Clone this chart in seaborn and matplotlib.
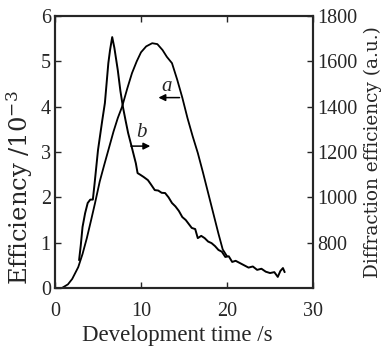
import matplotlib
matplotlib.use("Agg")
import matplotlib.pyplot as plt
import seaborn as sns

# ----------------------------------------------------
# Data
# ----------------------------------------------------

# curve a : efficiency (left axis, x10^-3)
a_time = [0.8, 1.5, 2.0, 2.7, 3.2, 3.7, 4.2, 4.65, 5.2, 5.7, 6.2, 6.8,
          7.3, 7.8, 8.4, 8.95, 9.5, 10.0, 10.6, 11.3, 11.9, 12.5, 13.0,
          13.6, 14.2, 14.8, 15.4, 16.0, 16.6, 17.2, 17.8, 18.4, 19.0,
          19.5, 20.0]
a_eff = [0.0, 0.08, 0.2, 0.46, 0.75, 1.1, 1.5, 1.87, 2.35, 2.7, 3.04, 3.45,
         3.75, 4.0, 4.4, 4.74, 5.0, 5.2, 5.33, 5.4, 5.38, 5.25, 5.1,
         4.96, 4.6, 4.2, 3.75, 3.35, 2.98, 2.55, 2.1, 1.65, 1.2,
         0.85, 0.7]

# curve b : diffraction efficiency (right axis, a.u.)
b_time = [2.8, 3.0, 3.2, 3.5, 3.8, 4.1, 4.4, 4.6, 5.0, 5.5, 5.8, 6.2,
          6.4, 6.65, 6.9, 7.3, 7.6, 7.9, 8.2, 8.5, 8.8, 9.1, 9.4, 9.6,
          9.9, 10.3, 10.8, 11.1, 11.6, 12.0, 12.4, 12.8, 13.2, 13.6,
          14.0, 14.4, 14.8, 15.2, 15.6, 15.9, 16.3, 16.6, 17.0, 17.4,
          17.8, 18.2, 18.6, 19.0, 19.4, 19.8, 20.2, 20.6, 21.0, 21.5,
          22.0, 22.5, 23.0, 23.5, 24.0, 24.5, 25.0, 25.5, 25.9, 26.2,
          26.5, 26.7]
b_diff = [723, 790, 869, 930, 975, 990, 990, 1060, 1209, 1341, 1416, 1592,
          1650, 1707, 1660, 1561, 1470, 1398, 1340, 1284, 1240, 1195, 1150, 1107,
          1100, 1090, 1076, 1060, 1032, 1030, 1020, 1019, 1000, 975,
          960, 940, 913, 900, 880, 865, 860, 820, 830, 820,
          805, 798, 785, 768, 760, 737, 740, 715, 720, 710,
          700, 690, 695, 680, 685, 672, 666, 670, 649, 675,
          688, 670]

x_ticks = [0, 10, 20, 30]
left_ticks = [0, 1, 2, 3, 4, 5, 6]
right_ticks = [800, 1000, 1200, 1400, 1600, 1800]

# ----------------------------------------------------
# Style
# ----------------------------------------------------

sns.set_style("ticks")
plt.rcParams["font.family"] = ["Liberation Serif", "DejaVu Serif"]
plt.rcParams["mathtext.fontset"] = "dejavuserif"
plt.rcParams["xtick.direction"] = "in"
plt.rcParams["ytick.direction"] = "in"

fig = plt.figure(figsize=(3.86, 3.48), dpi=100)
ax = fig.add_axes([0.1425, 0.1724, 0.6685, 0.7816])
ax2 = ax.twinx()

# ----------------------------------------------------
# Curves
# ----------------------------------------------------

sns.lineplot(x=a_time, y=a_eff, ax=ax, color="black", linewidth=1.3)
sns.lineplot(x=b_time, y=b_diff, ax=ax2, color="black", linewidth=1.4)

ax.set_xlim(0, 30)
ax.set_ylim(0, 6)
ax2.set_ylim(600, 1800)

ax.set_xticks(x_ticks)
ax.set_yticks(left_ticks)
ax2.set_yticks(right_ticks)

ax.tick_params(axis="x", labelsize=14.5, length=4, width=1, top=True, pad=10)
ax.tick_params(axis="y", labelsize=14.5, length=4, width=1, pad=3)
ax2.tick_params(axis="y", labelsize=14.5, length=4, width=1, pad=3)

ax.set_xlabel("Development time /s", fontsize=16.5)
ax.set_ylabel("Efficiency /$10^{-3}$", fontsize=17.5, family="DejaVu Serif")
ax2.set_ylabel("Diffraction efficiency (a.u.)", fontsize=13.3,
               family="DejaVu Serif")

ax.xaxis.set_label_coords(0.473, -0.136)
ax.yaxis.set_label_coords(-0.078, 0.368)
ax2.yaxis.set_label_coords(1.196, 0.5)

for a in (ax, ax2):
    for s in a.spines.values():
        s.set_linewidth(1.5)
        s.set_visible(True)

# ----------------------------------------------------
# Annotations
# ----------------------------------------------------

ax.annotate("", xy=(11.7, 4.2), xytext=(14.8, 4.2),
            arrowprops=dict(arrowstyle="-|>", color="black", lw=1.1,
                            mutation_scale=10))
ax.text(13.0, 4.45, "a", fontsize=15, style="italic", ha="center", va="center")

ax.annotate("", xy=(11.4, 3.13), xytext=(8.5, 3.13),
            arrowprops=dict(arrowstyle="-|>", color="black", lw=1.1,
                            mutation_scale=10))
ax.text(10.0, 3.42, "b", fontsize=15, style="italic", ha="center", va="center")

fig.savefig("out.png", dpi=100)
